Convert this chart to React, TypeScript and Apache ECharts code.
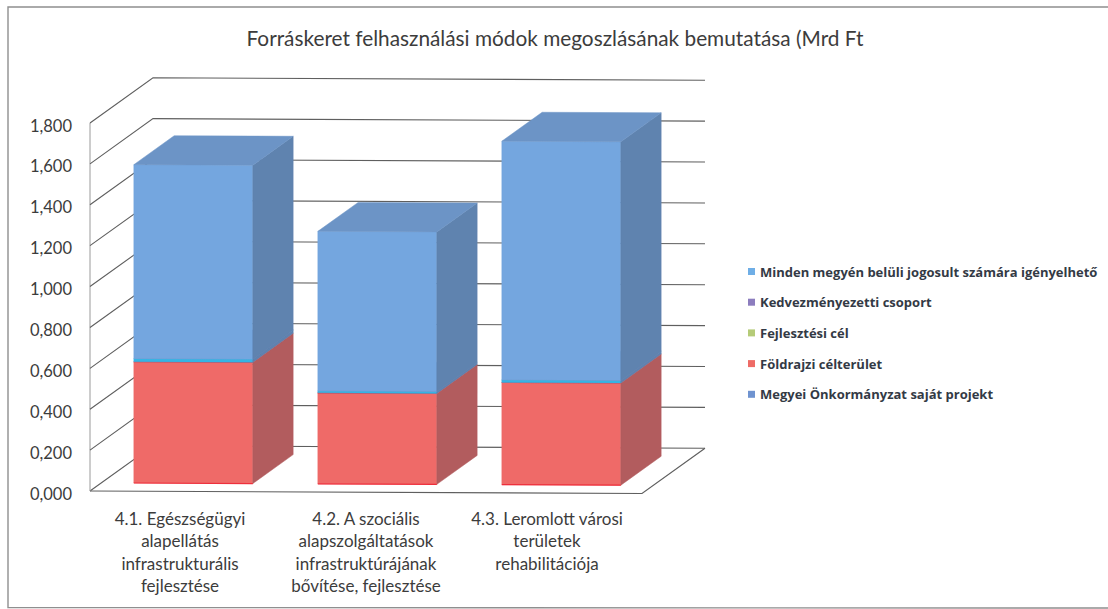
import React, { useEffect, useRef } from "react";
import * as echarts from "echarts";

const titleText = "Forráskeret felhasználási módok megoszlásának bemutatása (Mrd Ft";
const categories = [
  "4.1. Egészségügyi\nalapellátás\ninfrastrukturális\nfejlesztése",
  "4.2. A szociális\nalapszolgáltatások\ninfrastruktúrájának\nbővítése, fejlesztése",
  "4.3. Leromlott városi\nterületek\nrehabilitációja",
];
const tickValues = [0, 0.2, 0.4, 0.6, 0.8, 1.0, 1.2, 1.4, 1.6, 1.8];

const megyei = [0, 0, 0];
const foldrajzi = [0.593, 0.445, 0.5];
const fejlesztesi = [0, 0, 0];
const kedvezmenyezetti = [0.016, 0.01, 0.013];
const minden = [0.948, 0.78, 1.167];

const layers = [
  { name: "Megyei Önkormányzat saját projekt", values: megyei, legend: "#6F93D0", front: "#6F93D0", side: "#5A76A0", top: "#6487BC" },
  { name: "Földrajzi célterület", values: foldrajzi, legend: "#EE6B66", front: "#EF6A68", side: "#B25C5E", top: "#D85A5C" },
  { name: "Fejlesztési cél", values: fejlesztesi, legend: "#B5CB78", front: "#B5CB78", side: "#8EA05C", top: "#A3B86A" },
  { name: "Kedvezményezetti csoport", values: kedvezmenyezetti, legend: "#8C7DBE", front: "#35B4E4", side: "#5E82AF", top: "#6B93C6" },
  { name: "Minden megyén belüli jogosult számára igényelhető", values: minden, legend: "#6FAEE6", front: "#74A6DF", side: "#5F83AF", top: "#6C94C6" },
];
const legendOrder = [...layers].reverse().map((l) => l.name);

const FONT = "Lato, 'Open Sans', sans-serif";
const DEPTH_X = 63;
const DEPTH_Y = 45.5;
const TILT = 0.0045;
const ORIGIN_X = 90;
const BAR_FRACTION = 119 / 184;
const BAR_NEAR = 0.18;
const BAR_FAR = 0.82;

const project = (x: number, y: number, d: number): number[] => {
  const px = x + d * DEPTH_X;
  return [px, y - d * DEPTH_Y + (px - ORIGIN_X) * TILT];
};

const wallRender = (params: any, api: any) => {
  const v = api.value(0);
  const bandStart = api.coord([0, v]);
  const band = api.size([1, 0])[0];
  const left = bandStart[0] - band / 2;
  const right = left + band * categories.length;
  const y = bandStart[1];
  const children: any[] = [
    {
      type: "polyline",
      shape: { points: [project(left, y, 0), project(left, y, 1), project(right, y, 1)] },
      style: { fill: "none", stroke: "#5f5f5f", lineWidth: 1.1 },
    },
  ];
  if (v === 0) {
    children.push({
      type: "polyline",
      shape: { points: [project(left, y, 0), project(right, y, 0), project(right, y, 1)] },
      style: { fill: "none", stroke: "#5f5f5f", lineWidth: 1.2 },
    });
    const topY = api.coord([0, tickValues[tickValues.length - 1]])[1];
    children.push({
      type: "line",
      shape: { x1: left, y1: y, x2: left, y2: topY },
      style: { stroke: "#9a9a9a", lineWidth: 1 },
    });
  }
  return { type: "group", children };
};

const boxRender = (layer: any) => (params: any, api: any) => {
  const cat = api.value(0);
  const base = api.value(1);
  const top = api.value(2);
  if (top <= base) return null;
  const p0 = api.coord([cat, base]);
  const p1 = api.coord([cat, top]);
  const halfW = (api.size([1, 0])[0] * BAR_FRACTION) / 2;
  const xl = p0[0] - halfW;
  const xr = p0[0] + halfW;
  const yb = p0[1];
  const yt = p1[1];
  const poly = (points: number[][], fill: string) => ({
    type: "polygon",
    shape: { points },
    style: { fill, stroke: fill, lineWidth: 0.5 },
  });
  const edge = (a: number[], b: number[], stroke: string) => ({
    type: "line",
    shape: { x1: a[0], y1: a[1], x2: b[0], y2: b[1] },
    style: { stroke, lineWidth: 1.2 },
  });
  const isRed = layer.values === foldrajzi;
  const children: any[] = [
    poly([project(xl, yb, BAR_NEAR), project(xr, yb, BAR_NEAR), project(xr, yt, BAR_NEAR), project(xl, yt, BAR_NEAR)], layer.front),
    poly([project(xr, yb, BAR_NEAR), project(xr, yb, BAR_FAR), project(xr, yt, BAR_FAR), project(xr, yt, BAR_NEAR)], layer.side),
    poly([project(xl, yt, BAR_NEAR), project(xr, yt, BAR_NEAR), project(xr, yt, BAR_FAR), project(xl, yt, BAR_FAR)], layer.top),
  ];
  if (isRed) {
    children.push(edge(project(xl, yb, BAR_NEAR), project(xr, yb, BAR_NEAR), "#EE2F3C"));
    children.push(edge(project(xl, yt, BAR_NEAR), project(xr, yt, BAR_NEAR), "#EE2F3C"));
  }
  return { type: "group", children };
};

export default function App() {
  const ref = useRef<HTMLDivElement>(null);
  useEffect(() => {
    const chart = echarts.init(ref.current!, undefined, { renderer: "svg" });
    const cumulative = categories.map(() => 0);
    const barSeries = layers.map((layer) => ({
      type: "custom",
      name: layer.name,
      coordinateSystem: "cartesian2d",
      itemStyle: { color: layer.legend },
      renderItem: boxRender(layer),
      encode: { x: 0, y: [1, 2] },
      z: 5,
      data: layer.values.map((v, i) => {
        const base = cumulative[i];
        cumulative[i] = base + v;
        return [i, base, base + v];
      }),
    }));
    chart.setOption({
      animation: false,
      backgroundColor: "#ffffff",
      title: {
        text: titleText,
        left: 550,
        top: 22,
        textAlign: "center",
        textStyle: { fontFamily: FONT, fontSize: 20.8, fontWeight: "normal", color: "#3c3c3c" },
      },
      grid: { left: 90, right: 466, top: 123, height: 368 },
      legend: {
        orient: "vertical",
        left: 743,
        top: 260,
        data: legendOrder,
        icon: "rect",
        itemWidth: 7,
        itemHeight: 7,
        itemGap: 17.7,
        textStyle: { fontFamily: "'Open Sans', sans-serif", fontSize: 13, fontWeight: "bold", color: "#333a45" },
      },
      xAxis: {
        type: "category",
        data: [
          { value: categories[0], textStyle: { padding: [0, 4, 0, 0] } },
          { value: categories[1] },
          { value: categories[2], textStyle: { padding: [0, 6, 0, 0] } },
        ],
        axisLine: { show: false },
        axisTick: { show: false },
        axisLabel: {
          interval: 0,
          margin: 16,
          fontFamily: FONT,
          fontSize: 17,
          lineHeight: 22.4,
          color: "#3c3c3c",
        },
      },
      yAxis: {
        type: "value",
        min: 0,
        max: 1.8,
        interval: 0.2,
        axisLine: { show: false },
        axisTick: { show: false },
        splitLine: { show: false },
        axisLabel: {
          margin: 18,
          formatter: (v: number) => "{a|" + v.toFixed(3).replace(".", ",") + "}",
          rich: {
            a: { fontFamily: FONT, fontSize: 16.5, color: "#3c3c3c", padding: [5, 0, 0, 0] },
          },
        },
      },
      graphic: [
        {
          type: "polyline",
          silent: true,
          shape: { points: [[1108, 7], [8, 7], [8, 607.5], [1108, 608]] },
          style: { fill: "none", stroke: "#8f8f8f", lineWidth: 1.4 },
        },
      ],
      series: [
        {
          type: "custom",
          name: "rács",
          coordinateSystem: "cartesian2d",
          renderItem: wallRender,
          encode: { y: 0 },
          silent: true,
          z: 1,
          data: tickValues.map((t) => [t]),
        },
        ...barSeries,
      ],
    });
    return () => chart.dispose();
  }, []);
  return <div ref={ref} style={{ position: "fixed", left: 0, top: 0, width: 1108, height: 609 }} />;
}
